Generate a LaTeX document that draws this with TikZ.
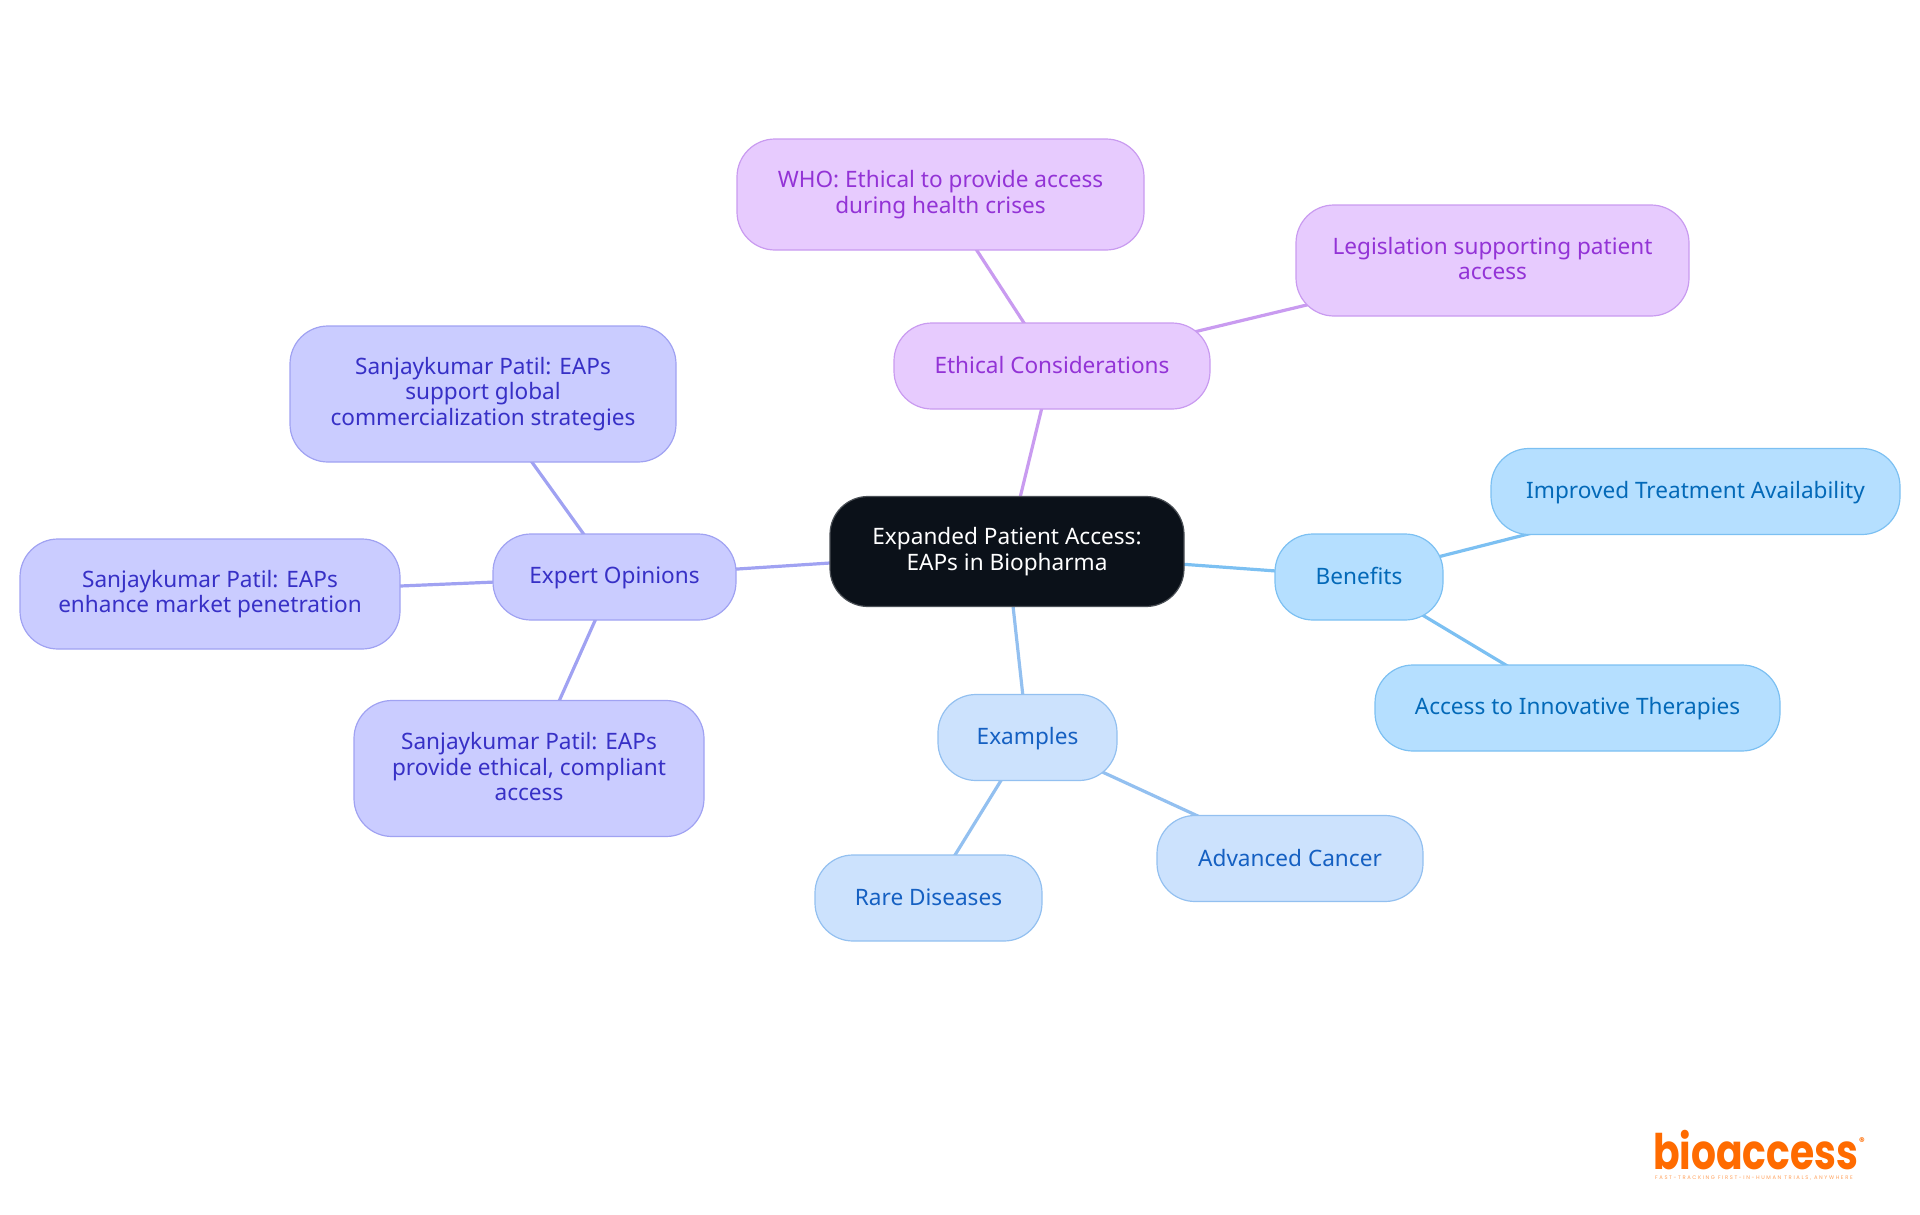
\documentclass[tikz,border=0pt]{standalone}
\usepackage{fontspec}
\setmainfont{Noto Sans}
\newfontfamily\logofont{Poppins}[BoldFont={* Bold}]
\newfontfamily\tagfont{Poppins}[LetterSpace=31]
\usetikzlibrary{backgrounds}
\definecolor{cfill}{HTML}{0B1119}\definecolor{cline}{HTML}{4A4F55}
\definecolor{pfill}{HTML}{E7CBFE}\definecolor{pline}{HTML}{C99BF0}\definecolor{ptext}{HTML}{9333D6}
\definecolor{bfill}{HTML}{B5DFFF}\definecolor{bline}{HTML}{7CC0F2}\definecolor{btext}{HTML}{0369B8}
\definecolor{efill}{HTML}{CCE2FD}\definecolor{eline}{HTML}{93C0F0}\definecolor{etext}{HTML}{1560C2}
\definecolor{ifill}{HTML}{CACCFF}\definecolor{iline}{HTML}{A0A2F2}\definecolor{itext}{HTML}{3730C6}
\definecolor{logoc}{HTML}{FF6B00}
\newcommand{\linestrut}{\rule[-3.6pt]{0pt}{22.6pt}}
\tikzset{
  mm/.style={rounded corners=38pt,draw,line width=1.2pt,inner sep=0pt,outer sep=0pt,align=center,
    font=\fontsize{22.6}{25.4}\selectfont,
    execute at begin node=\linestrut,execute at end node=\linestrut},
  centerbox/.style={mm,fill=cfill,draw=cline,text=white},
  pbox/.style={mm,fill=pfill,draw=pline,text=ptext},
  bbox/.style={mm,fill=bfill,draw=bline,text=btext},
  ebox/.style={mm,fill=efill,draw=eline,text=etext},
  ibox/.style={mm,fill=ifill,draw=iline,text=itext},
  plink/.style={draw=pline,line width=3.2pt},
  blink/.style={draw=bline,line width=3.2pt},
  elink/.style={draw=eline,line width=3.2pt},
  ilink/.style={draw=iline,line width=3.2pt},
}
\begin{document}
\begin{tikzpicture}[x=1pt,y=-1pt]
\useasboundingbox (0,0) rectangle (1920,1215);
\node[centerbox,minimum width=354pt,minimum height=110pt] (c) at (1007,551.5) {Expanded Patient Access:\\EAPs in Biopharma};
\node[pbox,minimum width=316pt,minimum height=86pt] (eth) at (1052,366) {Ethical Considerations};
\node[pbox,minimum width=407pt,minimum height=111pt] (who) at (940.5,194.5) {WHO: Ethical to provide access\\during health crises};
\node[pbox,minimum width=393pt,minimum height=111pt] (leg) at (1492.5,260.5) {Legislation supporting patient\\access};
\node[bbox,minimum width=168pt,minimum height=86pt] (ben) at (1359,577) {Benefits};
\node[bbox,minimum width=409pt,minimum height=86pt] (imp) at (1695.5,491.5) {Improved Treatment Availability};
\node[bbox,minimum width=405pt,minimum height=86pt] (acc) at (1577.5,708) {Access to Innovative Therapies};
\node[ebox,minimum width=179pt,minimum height=86pt] (ex) at (1027.5,737.5) {Examples};
\node[ebox,minimum width=266pt,minimum height=86pt] (adv) at (1290,858.5) {Advanced Cancer};
\node[ebox,minimum width=227pt,minimum height=86pt] (rare) at (928.5,898) {Rare Diseases};
\node[ibox,minimum width=243pt,minimum height=86pt] (exp) at (614.5,577) {Expert Opinions};
\node[ibox,minimum width=386pt,minimum height=136pt] (p1) at (483,394) {Sanjaykumar Patil: EAPs\\support global\\commercialization strategies};
\node[ibox,minimum width=380pt,minimum height=110pt] (p2) at (210,594) {Sanjaykumar Patil: EAPs\\enhance market penetration};
\node[ibox,minimum width=350pt,minimum height=136pt] (p3) at (529,768.5) {Sanjaykumar Patil: EAPs\\provide ethical, compliant\\access};
\begin{scope}[on background layer]
\draw[plink] (c.center) -- (eth.center);
\draw[plink] (eth.center) -- (who.center);
\draw[plink] (eth.center) -- (leg.center);
\draw[blink] (c.center) -- (ben.center);
\draw[blink] (ben.center) -- (imp.center);
\draw[blink] (ben.center) -- (acc.center);
\draw[elink] (c.center) -- (ex.center);
\draw[elink] (ex.center) -- (adv.center);
\draw[elink] (ex.center) -- (rare.center);
\draw[ilink] (c.center) -- (exp.center);
\draw[ilink] (exp.center) -- (p1.center);
\draw[ilink] (exp.center) -- (p2.center);
\draw[ilink] (exp.center) -- (p3.center);
\end{scope}
\node[inner sep=0pt,anchor=base west,text=logoc,transform shape,xscale=0.8,font=\logofont\bfseries\fontsize{49}{49}\selectfont] (logo) at (1653,1169) {bioaccess};
\node[inner sep=0pt,anchor=center,text=logoc,font=\logofont\bfseries\fontsize{11}{11}\selectfont] (reg) at (1862,1142) {®};
\node[inner sep=0pt,anchor=base west,text=logoc!65,font=\tagfont\fontsize{5.2}{6}\selectfont] (tag) at (1655,1179) {FAST-TRACKING FIRST-IN-HUMAN TRIALS, ANYWHERE};
\end{tikzpicture}
\end{document}
